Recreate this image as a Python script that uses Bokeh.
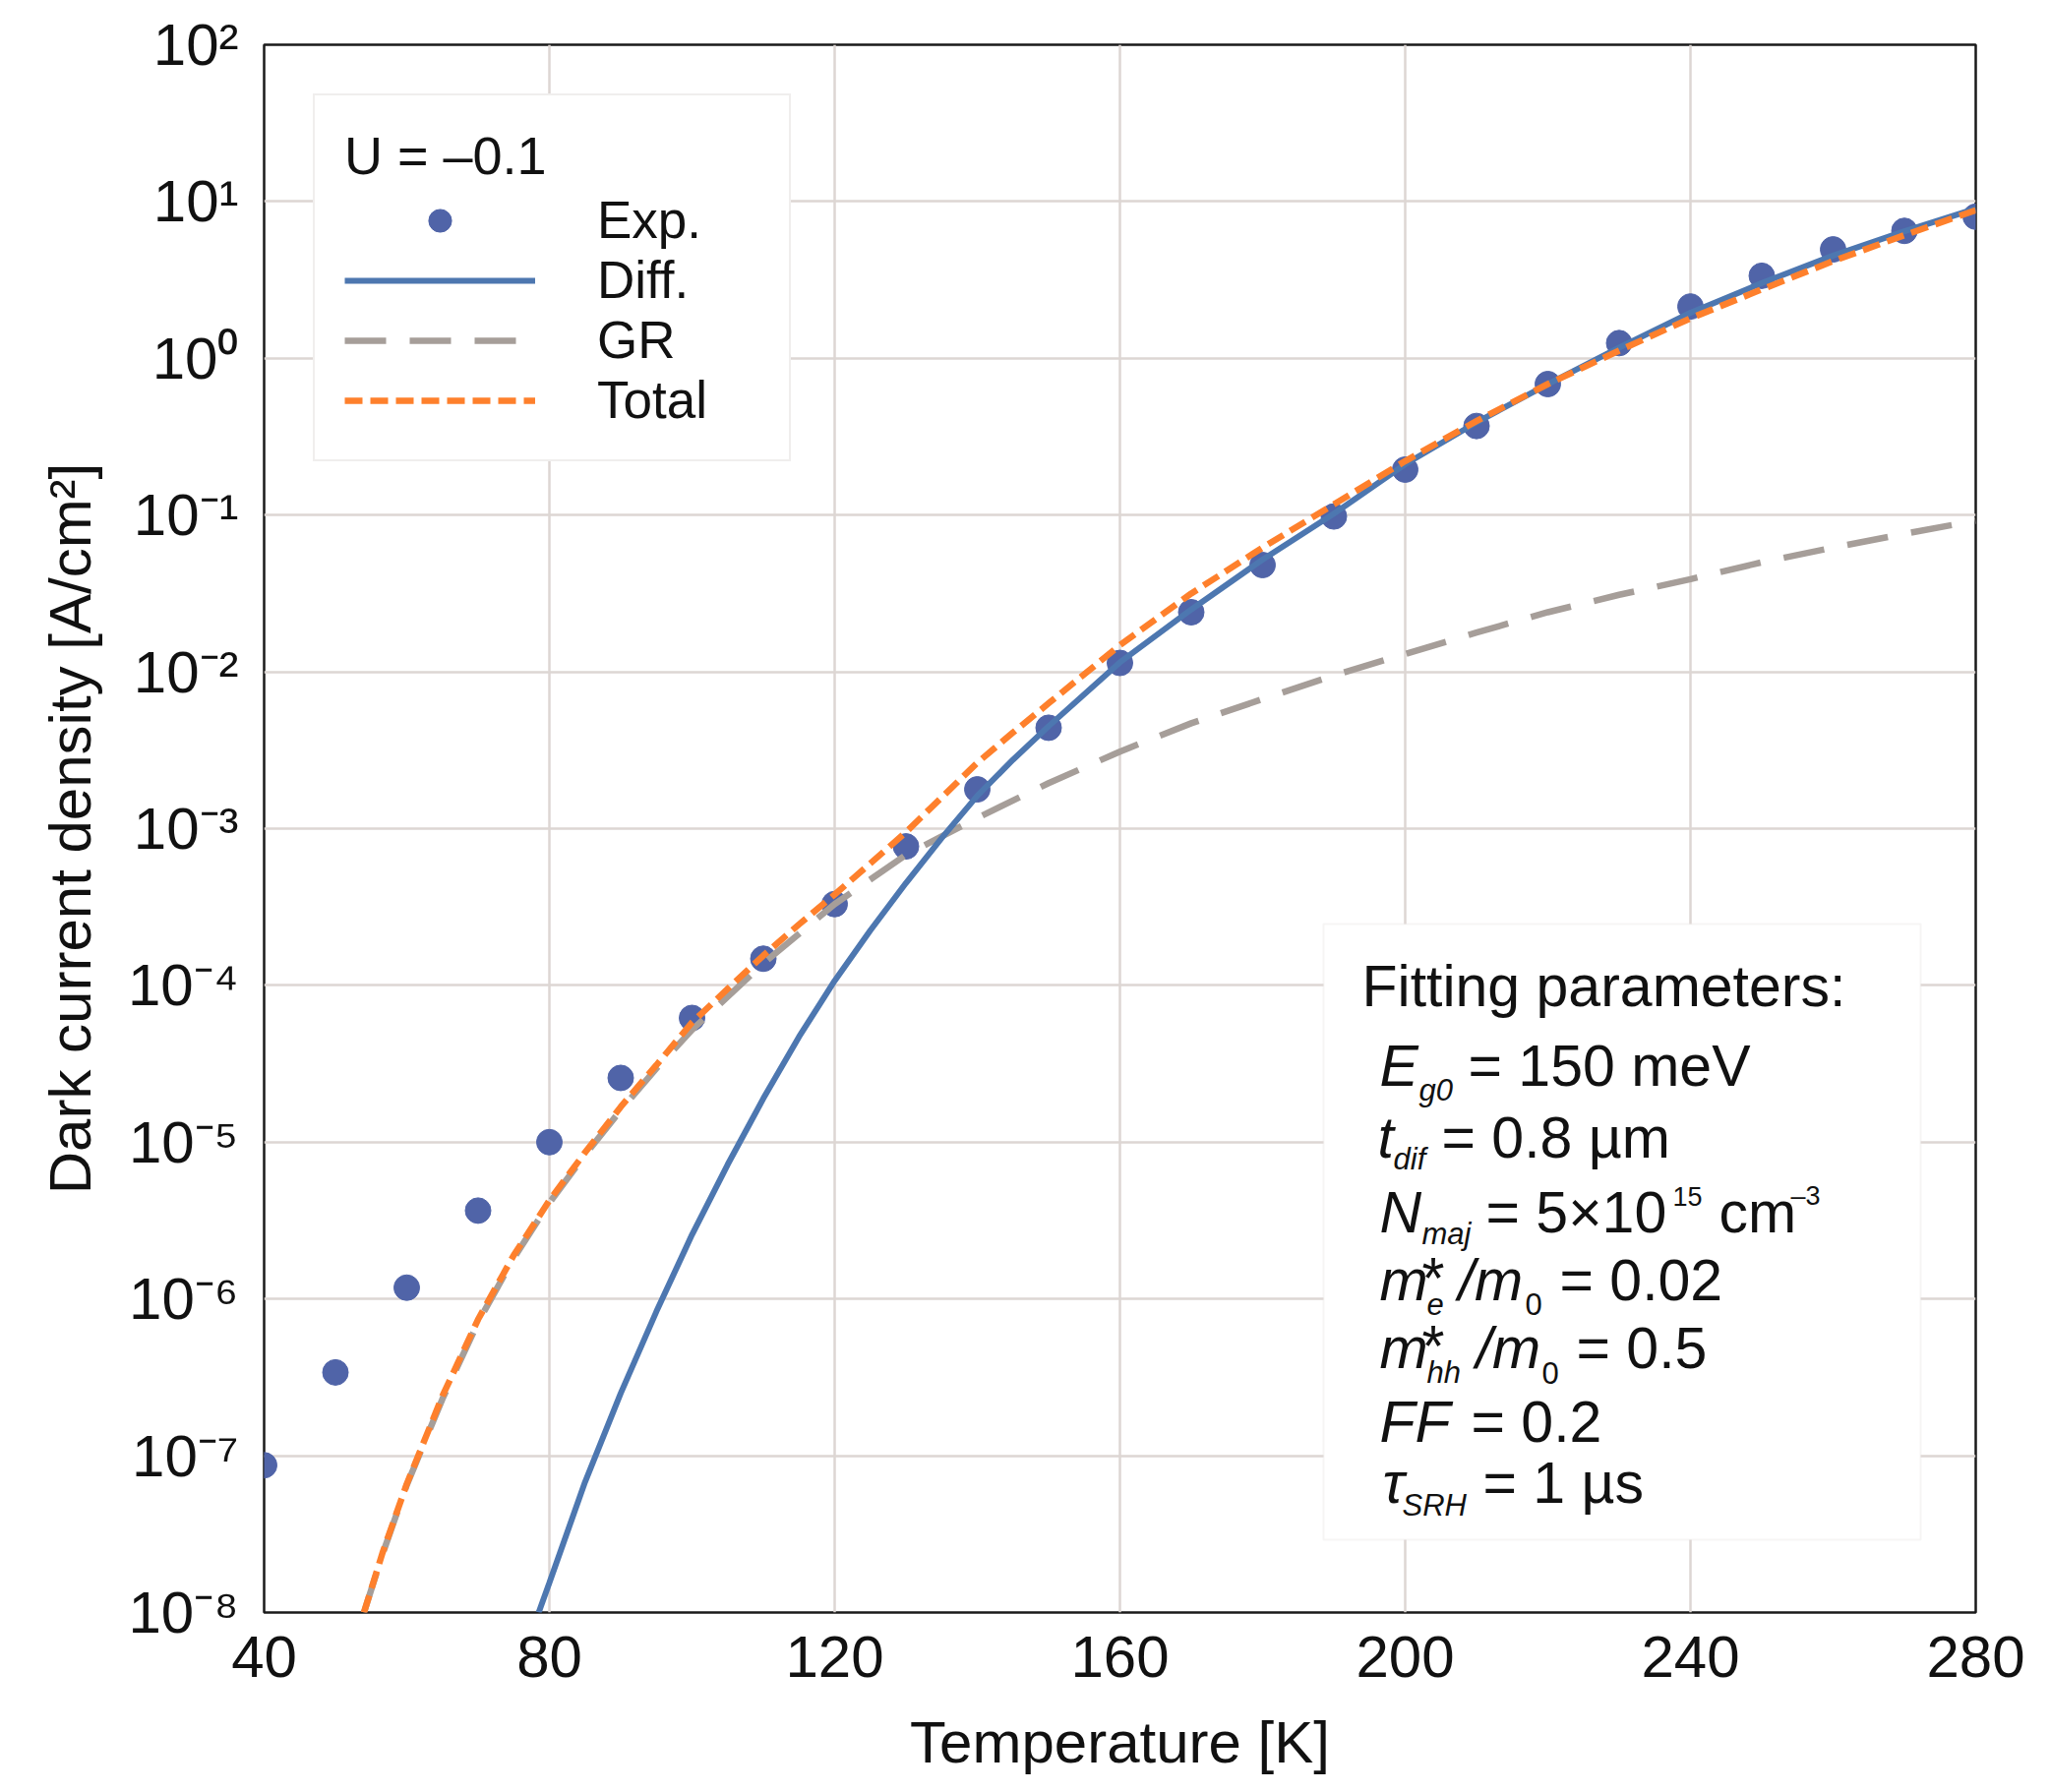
from bokeh.plotting import figure
from bokeh.models import (Legend, LegendItem, Label, BoxAnnotation, FixedTicker, Range1d)
from bokeh.embed import file_html
from bokeh.resources import INLINE

# ---------------- data ----------------
exp_T = [40, 50, 60, 70, 80, 90, 100, 110, 120, 130, 140, 150, 160, 170, 180,
         190, 200, 210, 220, 230, 240, 250, 260, 270, 280]
exp_J = [8.7e-8, 3.4e-7, 1.18e-6, 3.66e-6, 1.0e-5, 2.57e-5, 6.2e-5, 1.48e-4,
         3.3e-4, 7.7e-4, 1.78e-3, 4.4e-3, 1.14e-2, 2.4e-2, 4.8e-2, 9.8e-2,
         0.195, 0.37, 0.685, 1.25, 2.14, 3.36, 4.95, 6.5, 8.0]

diff_T = [78.5, 80, 85, 90, 95, 100, 105, 110, 115, 120, 125, 130, 135, 140,
          145, 150, 160, 170, 180, 190, 200, 210, 220, 230, 240, 250, 260, 270, 280]
diff_J = [1.0e-8, 1.55e-8, 6.8e-8, 2.5e-7, 8.3e-7, 2.57e-6, 7.2e-6, 1.9e-5,
          4.7e-5, 1.07e-4, 2.24e-4, 4.5e-4, 8.7e-4, 1.62e-3, 2.75e-3, 4.5e-3,
          1.15e-2, 2.5e-2, 5.2e-2, 0.102, 0.211, 0.39, 0.684, 1.17, 1.95,
          3.02, 4.52, 6.46, 9.0]

gr_T = [54.0, 56.6, 60, 65, 70, 75, 80, 85, 90, 95, 100, 110, 120, 130, 140,
        150, 160, 170, 180, 190, 200, 210, 220, 230, 240, 250, 260, 270, 280]
gr_J = [1.0e-8, 2.35e-8, 6.5e-8, 2.3e-7, 7.1e-7, 1.82e-6, 4.1e-6, 8.3e-6,
        1.6e-5, 2.95e-5, 5.2e-5, 1.38e-4, 3.3e-4, 6.8e-4, 1.17e-3, 1.95e-3,
        3.1e-3, 4.7e-3, 6.7e-3, 9.5e-3, 1.3e-2, 1.78e-2, 2.4e-2, 3.1e-2,
        3.9e-2, 5.0e-2, 6.2e-2, 7.6e-2, 9.2e-2]

tot_T = [54.0, 56.6, 60, 65, 70, 75, 80, 85, 90, 95, 100, 105, 110, 115, 120,
         125, 130, 135, 140, 145, 150, 160, 170, 180, 190, 200, 210, 220, 230,
         240, 250, 260, 270, 280]
tot_J = [1.0e-8, 2.4e-8, 6.6e-8, 2.4e-7, 7.4e-7, 1.9e-6, 4.25e-6, 8.6e-6,
         1.68e-5, 3.1e-5, 5.8e-5, 9.5e-5, 1.55e-4, 2.45e-4, 3.8e-4, 6.0e-4,
         9.5e-4, 1.58e-3, 2.63e-3, 4.1e-3, 6.3e-3, 1.48e-2, 3.16e-2, 6.2e-2,
         0.117, 0.221, 0.398, 0.685, 1.12, 1.8, 2.75, 4.17, 6.1, 8.8]

x_ticks = [40, 80, 120, 160, 200, 240, 280]
y_ticks = [1e-8, 1e-7, 1e-6, 1e-5, 1e-4, 1e-3, 1e-2, 1e-1, 1e0, 1e1, 1e2]
y_tick_labels = ["10⁻⁸", "10⁻⁷", "10⁻⁶", "10⁻⁵", "10⁻⁴", "10⁻³", "10⁻²",
                 "10⁻¹", "10⁰", "10¹", "10²"]
series_names = ["Exp.", "Diff.", "GR", "Total"]

# ---------------- layout ----------------
FONT = "Liberation Sans"
W, H = 2076, 1814
FL, FT, FR, FB = 268, 45, 2008, 1639        # frame edges in page pixels
X0, X1 = 40, 280
Y0, Y1 = 1e-8, 1e2

p = figure(width=W, height=H, x_range=Range1d(X0, X1), y_range=Range1d(Y0, Y1),
           y_axis_type="log", output_backend="svg", toolbar_location=None,
           min_border_left=FL, min_border_right=W - FR,
           min_border_top=FT, min_border_bottom=H - FB)
p.background_fill_color = "white"
p.border_fill_color = "white"
p.outline_line_color = "#1a1a1a"
p.outline_line_width = 2.5

p.xaxis.ticker = FixedTicker(ticks=x_ticks, minor_ticks=[])
p.yaxis.ticker = FixedTicker(ticks=y_ticks, minor_ticks=[])
p.yaxis.major_label_overrides = {t: l for t, l in zip(y_ticks, y_tick_labels)}

for ax in (p.xaxis, p.yaxis):
    ax.axis_line_color = None
    ax.major_tick_line_color = None
    ax.minor_tick_line_color = None
    ax.major_label_text_font = FONT
    ax.major_label_text_font_size = "60px"
    ax.major_label_text_color = "#111111"
    ax.axis_label_text_font = FONT
    ax.axis_label_text_font_size = "60px"
    ax.axis_label_text_font_style = "normal"
    ax.axis_label_text_color = "#111111"

p.xaxis.axis_label = "Temperature [K]"
p.yaxis.axis_label = "Dark current density [A/cm²]"
p.xaxis.major_label_standoff = 18
p.yaxis.major_label_standoff = 20
p.xaxis.axis_label_standoff = 30
p.yaxis.axis_label_standoff = 22

for g in (p.xgrid, p.ygrid):
    g.grid_line_color = "#ddd6d3"
    g.grid_line_width = 2.5

# ---------------- data marks ----------------
r_exp = p.scatter(exp_T, exp_J, size=26, marker="circle",
                  fill_color="#5064a8", line_color="#5064a8")
r_gr = p.line(gr_T, gr_J, line_color="#a69e99", line_width=6.5, line_dash="42 24")
r_diff = p.line(diff_T, diff_J, line_color="#4d77b0", line_width=6)
r_tot = p.line(tot_T, tot_J, line_color="#fe802c", line_width=6.5, line_dash="18 8")

legend = Legend(items=[LegendItem(label=series_names[0], renderers=[r_exp]),
                       LegendItem(label=series_names[1], renderers=[r_diff]),
                       LegendItem(label=series_names[2], renderers=[r_gr]),
                       LegendItem(label=series_names[3], renderers=[r_tot])],
                location="top_left", title="U = –0.1")
legend.margin = 50
legend.padding = 30
legend.spacing = 0
legend.glyph_width = 194
legend.glyph_height = 58
legend.label_height = 58
legend.label_width = 165
legend.label_standoff = 63
legend.label_text_font = FONT
legend.label_text_font_size = "53px"
legend.label_text_color = "#111111"
legend.title_text_font = FONT
legend.title_text_font_size = "54px"
legend.title_text_font_style = "normal"
legend.title_text_color = "#111111"
legend.title_standoff = 4
legend.border_line_color = "#e2dedb"
legend.border_line_width = 2
legend.background_fill_color = "white"
legend.background_fill_alpha = 1.0
p.add_layout(legend)

# ---------------- fitting-parameter box ----------------
def dx(px):
    return X0 + (px - FL) / (FR - FL) * (X1 - X0)


def dy(py):
    return 10 ** (2 - (py - FT) / (FB - FT) * 10)


p.add_layout(BoxAnnotation(left=dx(1345), right=dx(1952), top=dy(939), bottom=dy(1565),
                           fill_color="white", fill_alpha=1.0,
                           line_color="#e2dedb", line_width=2))

M, S, SUP = 59, 31, 27
BASE_SHIFT = 0.38      # baseline correction, fraction of font size
pieces = [
    ("Fitting parameters:", 1384, 1025, M, "normal"),
    ("E", 1402, 1106, M, "italic"), ("g0", 1442, 1120, S, "italic"),
    ("= 150 meV", 1492, 1106, M, "normal"),
    ("t", 1400, 1179, M, "italic"), ("dif", 1416, 1190, S, "italic"),
    ("= 0.8 µm", 1465, 1179, M, "normal"),
    ("N", 1402, 1255, M, "italic"), ("maj", 1445, 1266, S, "italic"),
    ("= 5×10", 1510, 1255, M, "normal"), ("15", 1700, 1226, SUP, "normal"),
    ("cm", 1747, 1255, M, "normal"), ("–3", 1820, 1226, SUP, "normal"),
    ("m", 1402, 1324, M, "italic"), ("*", 1445, 1322, M, "normal"),
    ("e", 1450, 1337, S, "italic"), ("/m", 1482, 1324, M, "italic"),
    ("0", 1550, 1337, S, "normal"), ("= 0.02", 1585, 1324, M, "normal"),
    ("m", 1402, 1393, M, "italic"), ("*", 1445, 1391, M, "normal"),
    ("hh", 1450, 1407, S, "italic"), ("/m", 1500, 1393, M, "italic"),
    ("0", 1567, 1407, S, "normal"), ("= 0.5", 1602, 1393, M, "normal"),
    ("FF", 1402, 1468, M, "italic"), ("= 0.2", 1495, 1468, M, "normal"),
    ("τ", 1405, 1530, M, "italic"), ("SRH", 1425, 1542, S, "italic"),
    ("= 1 µs", 1507, 1530, M, "normal"),
]
for txt, px, py, size, style in pieces:
    p.add_layout(Label(x=dx(px), y=dy(py - BASE_SHIFT * size), text=txt,
                       text_font=FONT, text_font_size=f"{size}px",
                       text_font_style=style, text_color="#111111",
                       text_align="left", text_baseline="alphabetic"))

open("out.html", "w").write(file_html(p, INLINE))
